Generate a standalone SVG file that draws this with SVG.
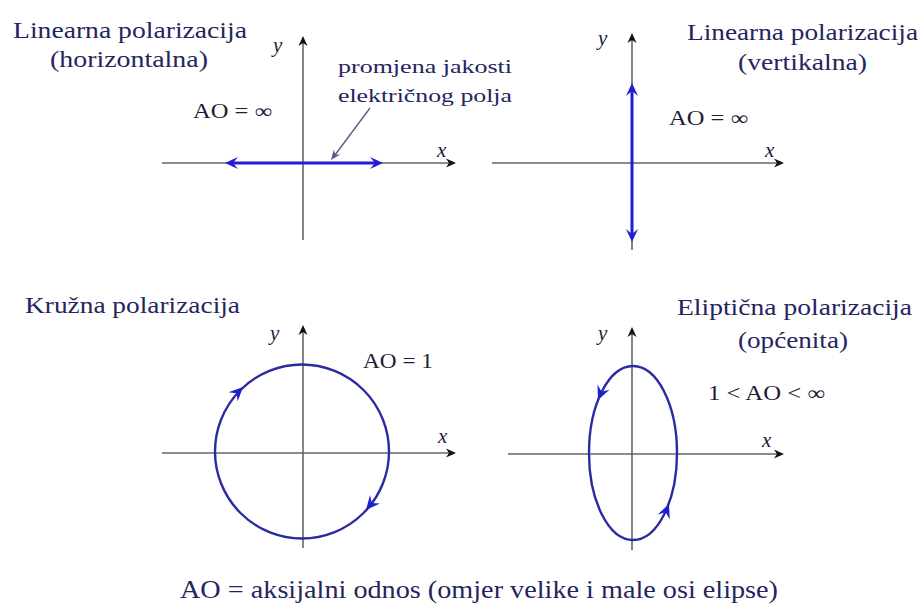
<svg xmlns="http://www.w3.org/2000/svg" width="922" height="610" viewBox="0 0 922 610">
<style>
.t{fill:#25255e}
.k{fill:#1c1c36}
.v{font-style:italic;fill:#1c1c36;font-size:21px}
.ax{stroke:#666;stroke-width:1.6;fill:none}
.bl{stroke:#1f1fd0;stroke-width:3;fill:none}
.cr{stroke:#2b2ba0;stroke-width:2.4;fill:none}
</style>
<defs>
<path id="ah" d="M0,0 L-13,-6 L-8,0 L-13,6 Z" fill="#1f1fd0"/>
<path id="ahc" d="M0,0 L-14,-6.5 L-9,0 L-14,6.5 Z" fill="#1f1fd0"/>
<path id="axh" d="M0,0 L-10,-4.5 L-7,0 L-10,4.5 Z" fill="#111"/>
<path id="ph" d="M0,0 L-10,-4 L-7,0 L-10,4 Z" fill="#555a88"/>
</defs>
<rect width="922" height="610" fill="#fff"/>
<g font-family="Liberation Serif, DejaVu Serif, serif">

<g id="panel-horizontal">
<line class="ax" x1="162" y1="163" x2="450" y2="163"/>
<use href="#axh" transform="translate(456,163)"/>
<line class="ax" x1="303" y1="240" x2="303" y2="42"/>
<use href="#axh" transform="translate(303,36) rotate(-90)"/>
<line class="bl" x1="232" y1="163" x2="376" y2="163"/>
<use href="#ah" transform="translate(225,163) rotate(180)"/>
<use href="#ah" transform="translate(383,163)"/>
<text class="t" x="13" y="38" font-size="23" textLength="234" lengthAdjust="spacingAndGlyphs">Linearna polarizacija</text>
<text class="t" x="50" y="67" font-size="23" textLength="158" lengthAdjust="spacingAndGlyphs">(horizontalna)</text>
<text class="k" x="193" y="118" font-size="20" textLength="79" lengthAdjust="spacingAndGlyphs">AO = ∞</text>
<text class="t" x="338" y="73" font-size="19" textLength="174" lengthAdjust="spacingAndGlyphs">promjena jakosti</text>
<text class="t" x="338" y="102" font-size="19" textLength="174" lengthAdjust="spacingAndGlyphs">električnog polja</text>
<text class="v" x="273" y="52">y</text>
<text class="v" x="437" y="157">x</text>
</g>

<g id="connectors">
<line x1="370" y1="108" x2="335" y2="155" stroke="#555a88" stroke-width="1.3"/>
<use href="#ph" transform="translate(331,160) rotate(127)"/>
</g>

<g id="panel-vertical">
<line class="ax" x1="492" y1="163" x2="778" y2="163"/>
<use href="#axh" transform="translate(784,163)"/>
<line class="ax" x1="632" y1="250" x2="632" y2="39"/>
<use href="#axh" transform="translate(632,33) rotate(-90)"/>
<line class="bl" x1="632" y1="90" x2="632" y2="235"/>
<use href="#ah" transform="translate(632,83) rotate(-90)"/>
<use href="#ah" transform="translate(632,242) rotate(90)"/>
<text class="t" x="687" y="40" font-size="23" textLength="231" lengthAdjust="spacingAndGlyphs">Linearna polarizacija</text>
<text class="t" x="738" y="70" font-size="23" textLength="129" lengthAdjust="spacingAndGlyphs">(vertikalna)</text>
<text class="k" x="669" y="125" font-size="20" textLength="79" lengthAdjust="spacingAndGlyphs">AO = ∞</text>
<text class="v" x="598" y="45">y</text>
<text class="v" x="765" y="157">x</text>
</g>

<g id="panel-circular">
<line class="ax" x1="162" y1="453" x2="450" y2="453"/>
<use href="#axh" transform="translate(456,453)"/>
<line class="ax" x1="303" y1="548" x2="303" y2="331"/>
<use href="#axh" transform="translate(303,325) rotate(-90)"/>
<circle class="cr" cx="302" cy="451.5" r="87"/>
<use href="#ahc" transform="translate(243,387) rotate(-45)"/>
<use href="#ahc" transform="translate(366,510) rotate(130)"/>
<text class="t" x="25" y="313" font-size="23" textLength="215" lengthAdjust="spacingAndGlyphs">Kružna polarizacija</text>
<text class="k" x="363" y="368" font-size="20" textLength="70" lengthAdjust="spacingAndGlyphs">AO = 1</text>
<text class="v" x="270" y="340">y</text>
<text class="v" x="438" y="443">x</text>
</g>

<g id="panel-elliptical">
<line class="ax" x1="508" y1="454" x2="778" y2="454"/>
<use href="#axh" transform="translate(784,454)"/>
<line class="ax" x1="632" y1="550" x2="632" y2="333"/>
<use href="#axh" transform="translate(632,327) rotate(-90)"/>
<ellipse class="cr" cx="633" cy="453" rx="44" ry="87"/>
<use href="#ahc" transform="translate(598,400) rotate(113)"/>
<use href="#ahc" transform="translate(669,504) rotate(-68)"/>
<text class="t" x="677" y="315" font-size="23" textLength="235" lengthAdjust="spacingAndGlyphs">Eliptična polarizacija</text>
<text class="t" x="738" y="348" font-size="23" textLength="110" lengthAdjust="spacingAndGlyphs">(općenita)</text>
<text class="k" x="708" y="400" font-size="20" textLength="117" lengthAdjust="spacingAndGlyphs">1 &lt; AO &lt; ∞</text>
<text class="v" x="598" y="340">y</text>
<text class="v" x="762" y="447">x</text>
</g>

<g id="legend">
<text class="t" x="180" y="598" font-size="25" textLength="598" lengthAdjust="spacingAndGlyphs">AO = aksijalni odnos (omjer velike i male osi elipse)</text>
</g>
</g>
</svg>
